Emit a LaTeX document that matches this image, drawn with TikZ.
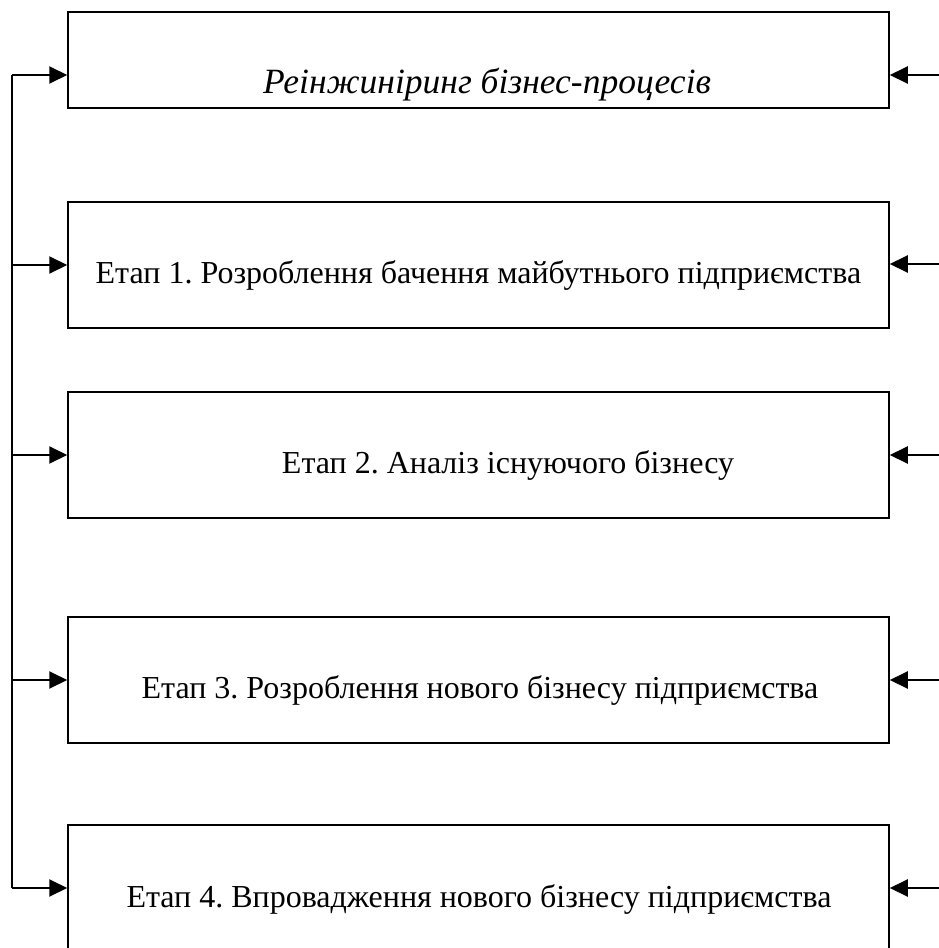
\documentclass[tikz,border=0pt]{standalone}
\usepackage{fontspec}
\setmainfont{Liberation Serif}
\usetikzlibrary{arrows.meta}
\frenchspacing
\begin{document}
\begin{tikzpicture}[x=1pt,y=-1pt,
  boxstyle/.style={draw,line width=1.5pt,inner sep=0pt,minimum width=821pt},
  txt/.style={anchor=base,inner sep=0pt,font=\fontsize{32}{36}\selectfont},
  arr/.style={line width=2pt,-{Triangle[length=18pt,width=17pt]}},
  lin/.style={line width=2pt}]
\useasboundingbox (0,0) rectangle (939,948);
\clip (0,0) rectangle (939,948);
\node[boxstyle,minimum height=96pt]  (b1) at (478.5,60) {};
\node[boxstyle,minimum height=126pt] (b2) at (478.5,265) {};
\node[boxstyle,minimum height=126pt] (b3) at (478.5,455) {};
\node[boxstyle,minimum height=126pt] (b4) at (478.5,680) {};
\node[boxstyle,minimum height=150pt] (b5) at (478.5,900) {};
\node[txt,font=\fontsize{35.5}{39}\selectfont\itshape] (t1) at (487,93) {Реінжиніринг бізнес-процесів};
\node[txt] (t2) at (478.5,283) {Етап 1. Розроблення бачення майбутнього підприємства};
\node[txt] (t3) at (508,473) {Етап 2. Аналіз існуючого бізнесу};
\node[txt] (t4) at (480,698) {Етап 3. Розроблення нового бізнесу підприємства};
\node[txt] (t5) at (479,907) {Етап 4. Впровадження нового бізнесу підприємства};
\coordinate (L1) at (12,75);
\coordinate (L2) at (12,265);
\coordinate (L3) at (12,455);
\coordinate (L4) at (12,680);
\coordinate (L5) at (12,888);
\coordinate (R1) at (939,75);
\coordinate (R2) at (939,264);
\coordinate (R3) at (939,455);
\coordinate (R4) at (939,680);
\coordinate (R5) at (939,888);
\draw[lin] (L1) -- (L5);
\foreach \i in {1,...,5}{
  \draw[arr] (L\i) -- (L\i -| b\i.west);
  \draw[arr] (R\i) -- (R\i -| b\i.east);
}
\end{tikzpicture}
\end{document}
